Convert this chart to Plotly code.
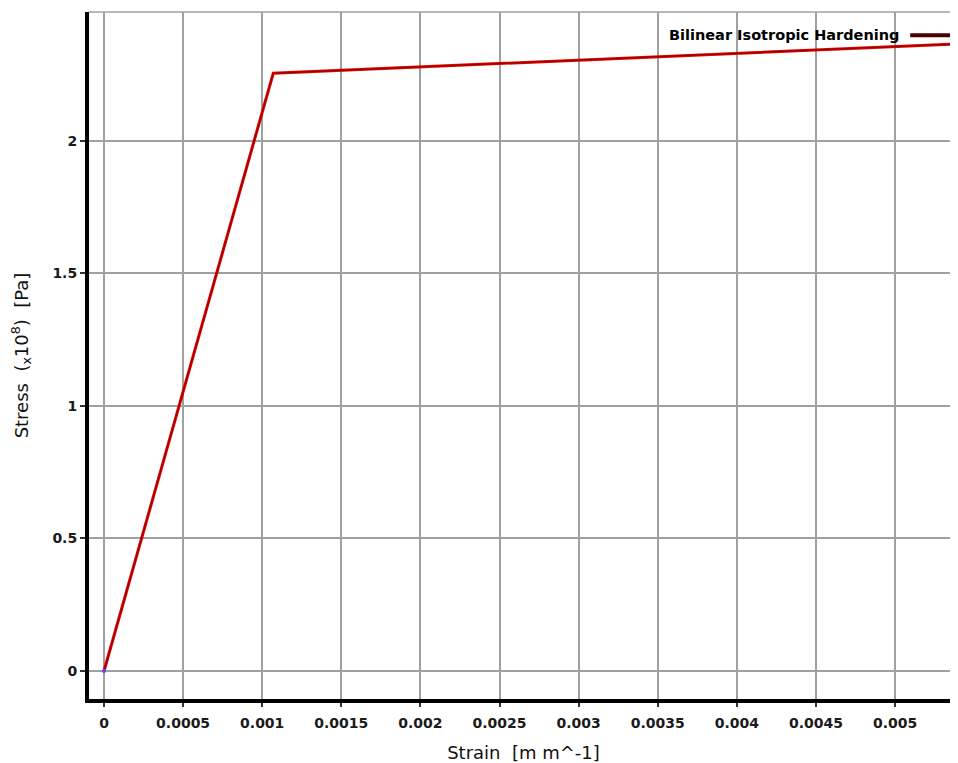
import plotly.graph_objects as go

strain = [0.0, 0.00107, 0.00536]
stress = [0.0, 2.255, 2.365]  # x10^8 Pa
series_name = "Bilinear Isotropic Hardening"
x_ticks = [0, 0.0005, 0.001, 0.0015, 0.002, 0.0025, 0.003, 0.0035, 0.004, 0.0045, 0.005]
x_tick_labels = ["0", "0.0005", "0.001", "0.0015", "0.002", "0.0025", "0.003", "0.0035", "0.004", "0.0045", "0.005"]
y_ticks = [0, 0.5, 1, 1.5, 2]
y_tick_labels = ["0", "0.5", "1", "1.5", "2"]

fig = go.Figure()
fig.add_trace(go.Scatter(x=strain, y=stress, mode="lines",
                         line=dict(color="#e00000", width=3), showlegend=False))
fig.add_trace(go.Scatter(x=strain, y=stress, mode="lines",
                         line=dict(color="rgba(70,0,0,0.55)", width=1), showlegend=False))
fig.add_trace(go.Scatter(x=strain[:1], y=stress[:1], mode="markers",
                         marker=dict(color="#5050ff", size=4), showlegend=False))

tickfont = dict(family="DejaVu Sans", size=14, color="#1a1a1a", weight=600)
titlefont = dict(family="DejaVu Sans", size=18, color="#111")
fig.update_layout(
    width=950, height=755,
    margin=dict(l=81, r=0, t=4, b=64),
    paper_bgcolor="white", plot_bgcolor="white",
    showlegend=False,
    xaxis=dict(range=[-0.0000948, 0.005398], tickvals=x_ticks, ticktext=x_tick_labels,
               showgrid=True, gridcolor="#a0a0a0", gridwidth=1.5, zeroline=False,
               showline=True, linecolor="black", linewidth=4,
               ticks="outside", ticklen=4, tickcolor="#333", tickwidth=1.5,
               tickfont=tickfont, ticklabelstandoff=4,
               title=dict(text="Strain  [m m^-1]", font=titlefont, standoff=19)),
    yaxis=dict(range=[-0.1055, 2.486], tickvals=y_ticks, ticktext=y_tick_labels,
               showgrid=True, gridcolor="#a0a0a0", gridwidth=1.5, zeroline=False,
               showline=True, linecolor="black", linewidth=4,
               ticks="outside", ticklen=5, tickcolor="#333", tickwidth=1.5,
               tickfont=tickfont,
               title=dict(text="Stress  (<sub>x</sub>10<sup>8</sup>)  [Pa]", font=titlefont, standoff=26)),
)
# top border gridline
fig.add_shape(type="line", xref="paper", yref="paper", x0=0, x1=1, y0=1, y1=1,
              line=dict(color="#a0a0a0", width=1.5))
# legend entry (text left of swatch)
fig.add_annotation(xref="paper", yref="paper", x=0.934, y=0.966, xanchor="right", yanchor="middle",
                   text=series_name, showarrow=False,
                   font=dict(family="DejaVu Sans", size=14.5, color="#000", weight=600))
fig.add_shape(type="line", xref="paper", yref="paper", x0=0.945, x1=0.998, y0=0.966, y1=0.966,
              line=dict(color="#4a0000", width=4))

fig.write_html("out.html")
